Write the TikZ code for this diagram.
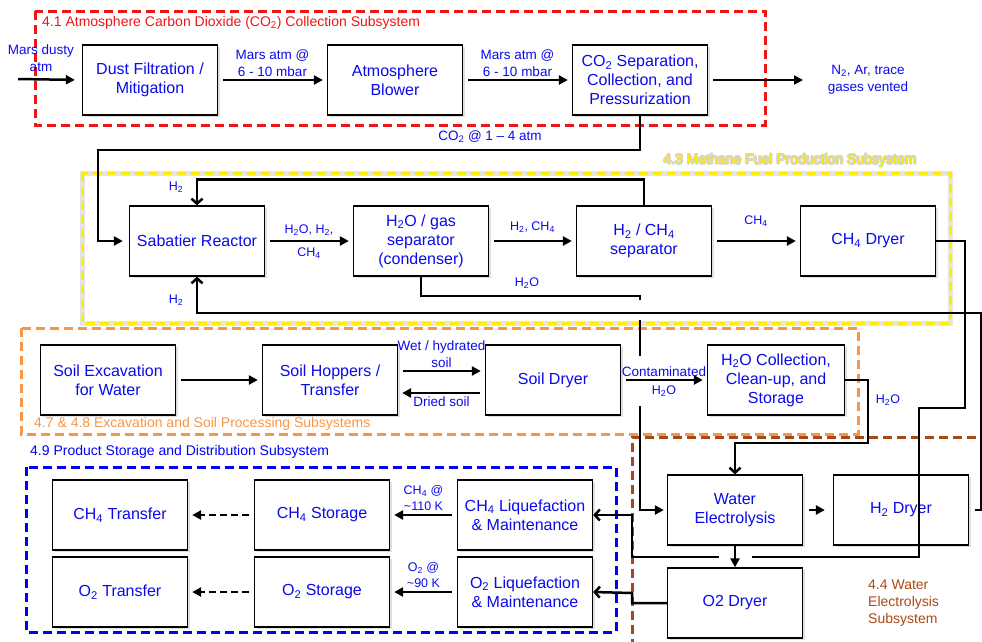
\documentclass[tikz,border=0pt]{standalone}
\usepackage{fontspec}
\setmainfont{Liberation Sans}
\usepackage[copies]{contour}
\usetikzlibrary{positioning,arrows.meta,shadows}
\contourlength{0.8pt}
\definecolor{txtblue}{RGB}{10,10,235}
\definecolor{sysred}{RGB}{240,20,20}
\definecolor{sysyellow}{RGB}{255,238,0}
\definecolor{sysorange}{RGB}{247,150,70}
\definecolor{sysbrown}{RGB}{170,72,20}
\newcommand{\dn}[1]{\textsubscript{#1}}

\tikzset{
  blk/.style={draw, line width=1.3pt, fill=white, minimum width=135pt, minimum height=70pt,
    inner sep=2pt, align=center, text=txtblue, font=\fontsize{16}{19}\selectfont,
    drop shadow={opacity=0.25, shadow xshift=2pt, shadow yshift=-2pt}},
  flow/.style={line width=2.5pt, -{Triangle[length=9pt,width=9pt]}},
  flowb/.style={line width=2.5pt, -{Straight Barb[length=5pt,width=11pt]}},
  spaced/.style={shorten <=5pt, shorten >=4pt},
  lbl/.style={text=txtblue, align=center, font=\fontsize{13.5}{17}\selectfont, inner sep=1pt},
  chem/.style={text=txtblue, align=center, font=\fontsize{12.5}{16}\selectfont, inner sep=1pt},
  frame/.style={line width=3pt, dash pattern=on 9pt off 5pt},
  syslbl/.style={font=\fontsize{14}{17}\selectfont, inner sep=0pt, align=left},
}

\begin{document}
\begin{tikzpicture}[x=1pt, y=-1pt]
  \useasboundingbox (0,0) rectangle (982,641);

  % subsystem frames
  \draw [frame, sysred] (35,11) rectangle (765,125);
  \draw [frame, sysyellow, preaction={draw=black!10, line width=5pt}] (82,173) rectangle (950,323);
  \draw [frame, sysorange] (21,328) rectangle (858,434);
  \draw [frame, blue] (26,467) rectangle (616,632);
  \draw [frame, sysbrown] (990,437) -- (632,437) -- (632,650);

  \node (redlbl) [syslbl, text=sysred, anchor=west] at (42,23) {4.1 Atmosphere Carbon Dioxide (CO\dn{2}) Collection Subsystem};
  \node (yellbl) [syslbl, text=sysyellow] at (790,161) {\contour{black!18}{4.3 Methane Fuel Production Subsystem}};
  \node (orglbl) [syslbl, text=sysorange, anchor=west] at (34,424) {4.7 \& 4.8 Excavation and Soil Processing Subsystems};
  \node (bluelbl) [syslbl, text=blue, anchor=west] at (30,452) {4.9 Product Storage and Distribution Subsystem};
  \node (brnlbl) [syslbl, text=sysbrown, anchor=west] at (868,603) {4.4 Water\\Electrolysis\\Subsystem};

  % blocks
  \node (dust) [blk] at (150,80) {Dust Filtration /\\Mitigation};
  \node (blower) [blk, right of=dust, node distance=245pt] {Atmosphere\\Blower};
  \node (co2sep) [blk, right of=blower, node distance=245pt] {CO\dn{2} Separation,\\Collection, and\\Pressurization};

  \node (sab) [blk] at (197,241) {Sabatier Reactor};
  \node (h2osep) [blk, right of=sab, node distance=224pt] {H\dn{2}O / gas\\separator\\(condenser)};
  \node (h2ch4) [blk, right of=h2osep, node distance=223pt] {H\dn{2} / CH\dn{4}\\separator};
  \node (ch4dry) [blk, right of=h2ch4, node distance=224pt] {CH\dn{4} Dryer};

  \node (soilexc) [blk] at (108,380) {Soil Excavation\\for Water};
  \node (hopper) [blk, right of=soilexc, node distance=222pt] {Soil Hoppers /\\Transfer};
  \node (soildry) [blk, right of=hopper, node distance=223pt] {Soil Dryer};
  \node (h2ocol) [blk, right of=soildry, node distance=223pt, minimum width=137pt] {H\dn{2}O Collection,\\Clean-up, and\\Storage};

  \node (ch4tr) [blk] at (120,515) {CH\dn{4} Transfer};
  \node (ch4sto) [blk, right of=ch4tr, node distance=202pt] {CH\dn{4} Storage};
  \node (ch4liq) [blk, right of=ch4sto, node distance=203pt] {CH\dn{4} Liquefaction\\\& Maintenance};
  \node (o2tr) [blk, below of=ch4tr, node distance=77pt] {O\dn{2} Transfer};
  \node (o2sto) [blk, right of=o2tr, node distance=202pt] {O\dn{2} Storage};
  \node (o2liq) [blk, right of=o2sto, node distance=203pt] {O\dn{2} Liquefaction\\\& Maintenance};

  \node (welec) [blk] at (735,510) {Water\\Electrolysis};
  \node (h2dry) [blk, right of=welec, node distance=166pt] {H\dn{2} Dryer};
  \node (o2dry) [blk, below of=welec, node distance=93pt] {O2 Dryer};

  % CO2 collection
  \coordinate (inlet) at (18,79);
  \coordinate (vent) at (803,80);
  \node (inlbl) [lbl] at (41,58) {Mars dusty\\atm};
  \node (ventlbl) [lbl] at (868,80) {N\dn{2}, Ar, trace\\gases vented};
  \draw [flow, shorten >=7pt] (inlet) -- (dust.west);
  \draw [flow, spaced] (dust) -- node (atm1) [lbl, above=1pt] {Mars atm @\\6 - 10 mbar} (blower);
  \draw [flow, spaced] (blower) -- node (atm2) [lbl, above=1pt] {Mars atm @\\6 - 10 mbar} (co2sep);
  \draw [flow, shorten <=5pt] (co2sep) -- (vent);

  \coordinate (co2bend) at (98,150);
  \node (co2lbl) [lbl] at (490,137) {CO\dn{2} @ 1 -- 4 atm};
  \draw [flow, shorten >=6pt] (co2sep.south) |- (co2bend) |- (sab.west);

  % methane production
  \draw [flow, spaced] (sab) -- node (mix1) [chem, above=3pt] {H\dn{2}O, H\dn{2},}
                                node (mix2) [chem, below=5pt] {CH\dn{4}} (h2osep);
  \draw [flow, spaced] (h2osep) -- node (gas) [chem, above=6pt] {H\dn{2}, CH\dn{4}} (h2ch4);
  \draw [flow, spaced] (h2ch4) -- node (ch4a) [chem, above=12pt] {CH\dn{4}} (ch4dry);
  \node (h2top) [chem] at (176,187) {H\dn{2}};
  \draw [flowb] (h2ch4.north) -- ++(0,-26) -| (sab.north);

  % condensed water
  \coordinate (h2obend) at (640,296);
  \node (h2olbl) [chem] at (527,283) {H\dn{2}O};
  \draw [flow, shorten >=3pt] (h2osep.south) |- (h2obend) |- (welec.west);
  \fill [white] (635,300) rectangle (645,320);
  \fill [white] (635,356) rectangle (645,406);

  % hydrogen return
  \coordinate (h2edge) at (981,313);
  \node (h2bot) [chem] at (176,300) {H\dn{2}};
  \draw [flowb, shorten <=6pt] (h2dry.east) -| (h2edge) -| (sab.south);

  % soil processing
  \draw [flow, spaced] (soilexc) -- (hopper);
  \draw [flow, spaced] ([yshift=9pt]hopper.east) -- node (wet) [lbl, above=1pt] {Wet / hydrated\\soil} ([yshift=9pt]soildry.west);
  \draw [flow, spaced] ([yshift=-13pt]soildry.west) -- node (dried) [lbl, below=1pt] {Dried soil} ([yshift=-13pt]hopper.east);
  \draw [flow, spaced] (soildry) -- node (cont) [lbl, above=1pt] {Contaminated}
                                    node (cont2) [chem, below=4pt] {H\dn{2}O} (h2ocol);

  % water to electrolysis
  \coordinate (h2ocorner) at (868,443);
  \node (h2ocl) [chem] at (888,400) {H\dn{2}O};
  \draw [flowb] (h2ocol.east) -| (h2ocorner) -| (welec.north);

  % methane to liquefaction
  \coordinate (ch4b1) at (965,408);
  \coordinate (ch4b2) at (919,557);
  \coordinate (ch4b3) at (632,515);
  \draw [flowb] (ch4dry.east) -| (ch4b1) -| (ch4b2) -| (ch4b3) -- (ch4liq.east);
  \fill [white] (719,553) rectangle (752,561);
  \draw [flow] (welec) -- (o2dry);
  \draw [flow, shorten <=6pt, shorten >=8pt] (welec) -- (h2dry);

  % oxygen to liquefaction
  \coordinate (o2b) at (632,593);
  \draw [flowb] (o2dry.west) -| (o2b) -- (o2liq.east);

  % storage and transfer
  \draw [flow, spaced] (ch4liq) -- node (ch4k) [chem, above=2pt] {CH\dn{4} @\\\textasciitilde110 K} (ch4sto);
  \draw [flow, spaced, dash pattern=on 7pt off 4pt] (ch4sto) -- (ch4tr);
  \draw [flow, spaced] (o2liq) -- node (o2k) [chem, above=2pt] {O\dn{2} @\\\textasciitilde90 K} (o2sto);
  \draw [flow, spaced, dash pattern=on 7pt off 4pt] (o2sto) -- (o2tr);
\end{tikzpicture}
\end{document}
